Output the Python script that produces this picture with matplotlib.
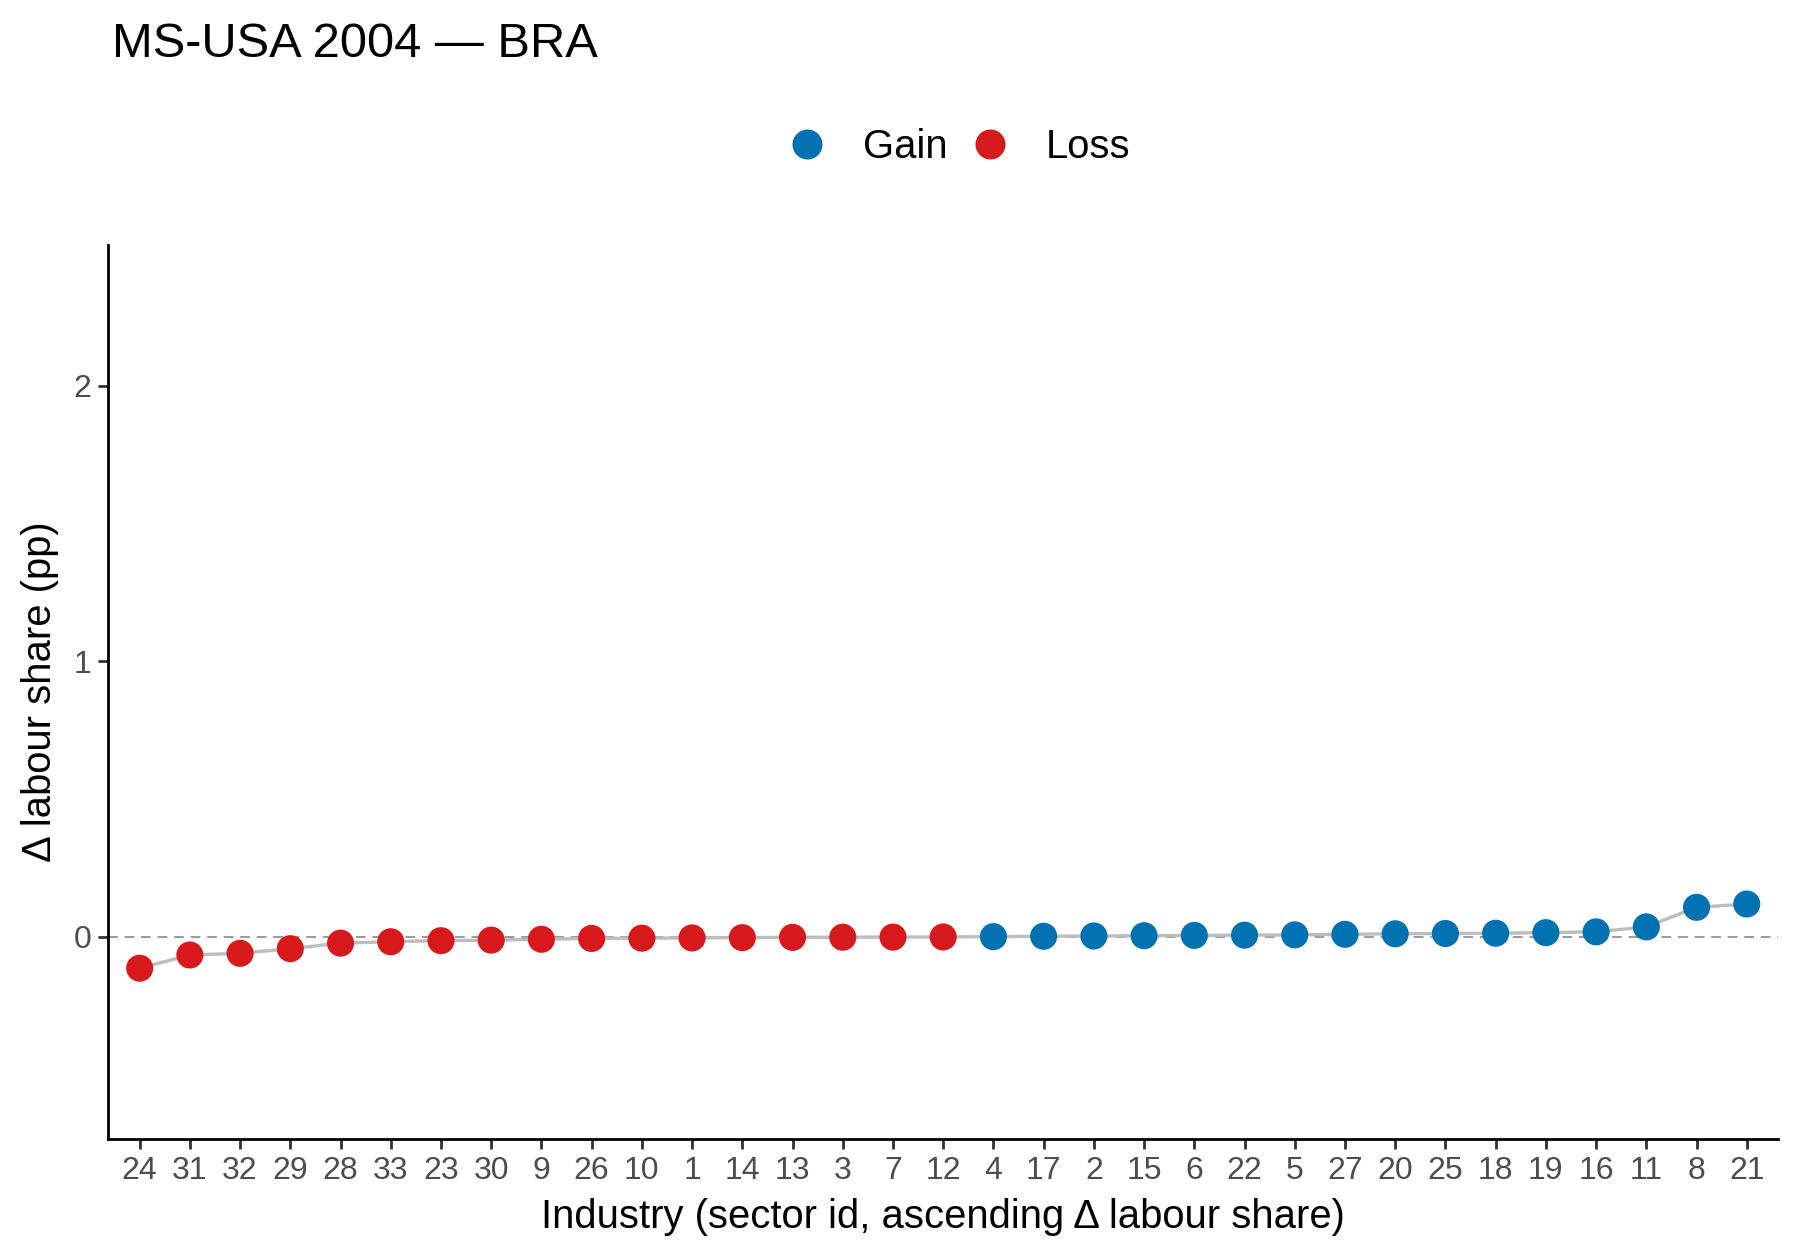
import matplotlib
matplotlib.use('Agg')
import matplotlib.pyplot as plt
from matplotlib.lines import Line2D

plt.rcParams['font.family'] = ['Liberation Sans', 'DejaVu Sans']

# sector ids in ascending order of change in labour share
sectors = ['24', '31', '32', '29', '28', '33', '23', '30', '9', '26', '10', '1',
           '14', '13', '3', '7', '12', '4', '17', '2', '15', '6', '22', '5',
           '27', '20', '25', '18', '19', '16', '11', '8', '21']
delta_ls = [-0.114, -0.066, -0.060, -0.043, -0.023, -0.018, -0.014, -0.012,
            -0.009, -0.006, -0.005, -0.004, -0.003, -0.002, -0.0015, -0.001,
            -0.0005, 0.0005, 0.002, 0.003, 0.004, 0.005, 0.006, 0.007,
            0.009, 0.011, 0.012, 0.013, 0.015, 0.018, 0.036, 0.107, 0.119]

col_gain = '#0072B2'
col_loss = '#D7191C'

fig = plt.figure(figsize=(9, 6.3), dpi=200)
ax = fig.add_axes([0.060, 0.096, 0.928, 0.7096])

xs = list(range(len(sectors)))
colors = [col_gain if v > 0 else col_loss for v in delta_ls]

ax.axhline(0, color='#999999', lw=0.7, ls=(0, (5, 3.5)), zorder=1)
ax.plot(xs, delta_ls, color='#bdbdbd', lw=1.2, zorder=2)
ax.scatter(xs, delta_ls, c=colors, s=95, zorder=3, linewidths=0)

ax.set_xlim(-0.63, len(sectors) - 1 + 0.63)
ax.set_ylim(-0.734, 2.511)
ax.set_xticks(xs)
ax.set_xticklabels(sectors)
ax.set_yticks([0, 1, 2])
ax.set_yticklabels(['0', '1', '2'])

for s in ['top', 'right']:
    ax.spines[s].set_visible(False)
for s in ['left', 'bottom']:
    ax.spines[s].set_linewidth(1.0)
    ax.spines[s].set_color('black')

ax.tick_params(axis='both', colors='#333333', labelcolor='#4d4d4d',
               labelsize=11.5, length=3.5, width=1.0, pad=2.5)

fig.text(0.062, 1 - 57 / 1260, 'MS-USA 2004 \u2014 BRA', fontsize=17.6,
         va='baseline', ha='left', color='black')
fig.text(943 / 1800, 1 - 1228 / 1260,
         'Industry (sector id, ascending \u0394 labour share)',
         fontsize=14.4, ha='center', va='baseline')
fig.text(40 / 1800, 1 - 692 / 1260, '\u0394 labour share (pp)', fontsize=14.4,
         rotation=90, ha='center', va='center')

handles = [
    Line2D([], [], marker='o', ls='none', color=col_gain, markersize=9.8, label='Gain'),
    Line2D([], [], marker='o', ls='none', color=col_loss, markersize=9.8, label='Loss'),
]
fig.legend(handles=handles, loc='center', bbox_to_anchor=(0.5325, 1 - 147 / 1260),
           ncol=2, frameon=False, fontsize=14.4, handlelength=1.0,
           handletextpad=0.9, columnspacing=0.55)

fig.savefig('out.png', dpi=200)
